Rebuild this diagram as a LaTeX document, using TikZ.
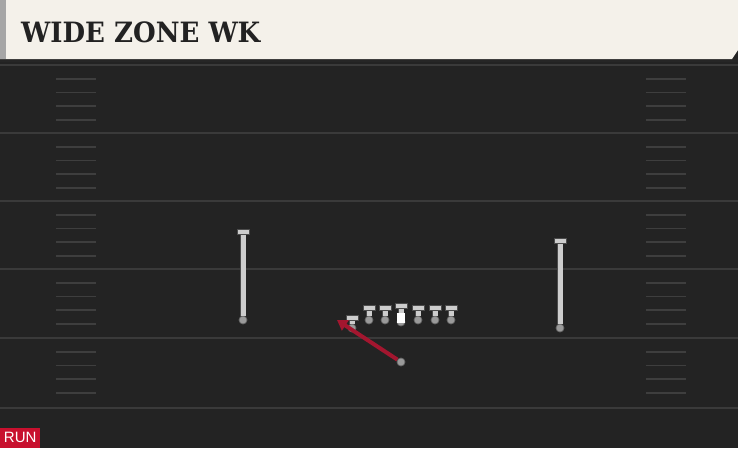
\documentclass[tikz,border=0pt]{standalone}
\usepackage{fontspec}
\newfontfamily\titlefont{DejaVu Serif}[BoldFont={DejaVu Serif Bold}]
\newfontfamily\tagfont{Liberation Sans}
\usetikzlibrary{positioning,arrows.meta}

\definecolor{fieldbg}{HTML}{232323}
\definecolor{fieldline}{HTML}{3A3A3A}
\definecolor{hashline}{HTML}{3E3E3E}
\definecolor{bannerbg}{HTML}{F4F1EA}
\definecolor{titleink}{HTML}{222222}
\definecolor{runred}{HTML}{C8102E}
\definecolor{routered}{HTML}{A3162F}
\definecolor{stemgray}{HTML}{CDCDCD}
\definecolor{dotgray}{HTML}{9A9A9A}

\tikzset{
  playerdot/.style={shape=circle,fill=dotgray,draw=black!60,line width=0.7pt,inner sep=0pt,minimum size=8pt},
  teecap/.style={shape=rectangle,fill=stemgray,draw=black!70,line width=0.7pt,inner sep=0pt,minimum width=12pt,minimum height=5pt},
  teestem/.style={draw=black!70,line width=6.6pt},
  teestemin/.style={draw=stemgray,line width=5pt},
  routeline/.style={draw=routered,line width=4pt,-{Triangle[length=10pt,width=12pt]}}
}

\begin{document}
\begin{tikzpicture}[x=1pt,y=-1pt]
  \useasboundingbox (0,0) rectangle (738,448);
  % field
  \fill[fieldbg] (0,0) rectangle (738,448);
  \foreach \yy in {65,133,201,269,338,408}
    \draw[fieldline,line width=1.5pt] (0,\yy) -- (738,\yy);
  \foreach \yy in {65,133,201,269,338}
    \foreach \k in {1,2,3,4}
      \draw[hashline,line width=1.6pt] (56,\yy+13.7*\k) -- (96,\yy+13.7*\k)
                                         (646,\yy+13.7*\k) -- (686,\yy+13.7*\k);
  % banner
  \fill[black!85] (0,58) rectangle (738,62);
  \fill[bannerbg] (0,0) -- (738,0) -- (738,50) -- (732,59) -- (0,59) -- cycle;
  \fill[black!35] (0,0) rectangle (6,59);
  \node[anchor=west,inner sep=0pt,text=titleink] (title) at (21,32)
    {\scalebox{0.93}[1]{\titlefont\bfseries\fontsize{28}{28}\selectfont WIDE ZONE WK}};
  % run tag
  \node[anchor=south west,fill=runred,text=white,inner sep=0pt,minimum width=40pt,minimum height=20pt] (runtag) at (0,448)
    {\tagfont\fontsize{15}{15}\selectfont RUN};

  % receivers
  \node[playerdot] (wrl) at (243,320) {};
  \node[teecap] (wrlcap) at (243,232) {};
  \node[playerdot] (wrr) at (560,328) {};
  \node[teecap] (wrrcap) at (560,241) {};
  \draw[teestem] (wrl) -- (wrlcap);
  \draw[teestemin] (wrl) -- (wrlcap);
  \draw[teestem] (wrr) -- (wrrcap);
  \draw[teestemin] (wrr) -- (wrrcap);

  % line
  \foreach \n/\xx in {lt/369,lg/385,rg/418,rt/435,te/451}{
    \node[playerdot] (\n) at (\xx,320) {};
    \node[teecap] (\n cap) at (\xx,308) {};
    \draw[teestem] (\n) -- (\n cap);
    \draw[teestemin] (\n) -- (\n cap);
  }
  \node[playerdot] (slot) at (352,328) {};
  \node[teecap] (slotcap) at (352,318) {};
  \draw[teestem] (slot) -- (slotcap);
  \draw[teestemin] (slot) -- (slotcap);

  % center with ball
  \node[playerdot] (c) at (401,322) {};
  \node[teecap] (ccap) at (401,306) {};
  \draw[teestem] (c) -- (ccap);
  \draw[teestemin] (c) -- (ccap);
  \node[shape=rectangle,fill=white,inner sep=0pt,minimum width=8pt,minimum height=10pt] (ball) at (401,318) {};

  % quarterback and route
  \node[playerdot] (qb) at (401,362) {};
  \coordinate (qbend) at (337,320);
  \draw[routeline] (qb) -- (qbend);
\end{tikzpicture}
\end{document}
